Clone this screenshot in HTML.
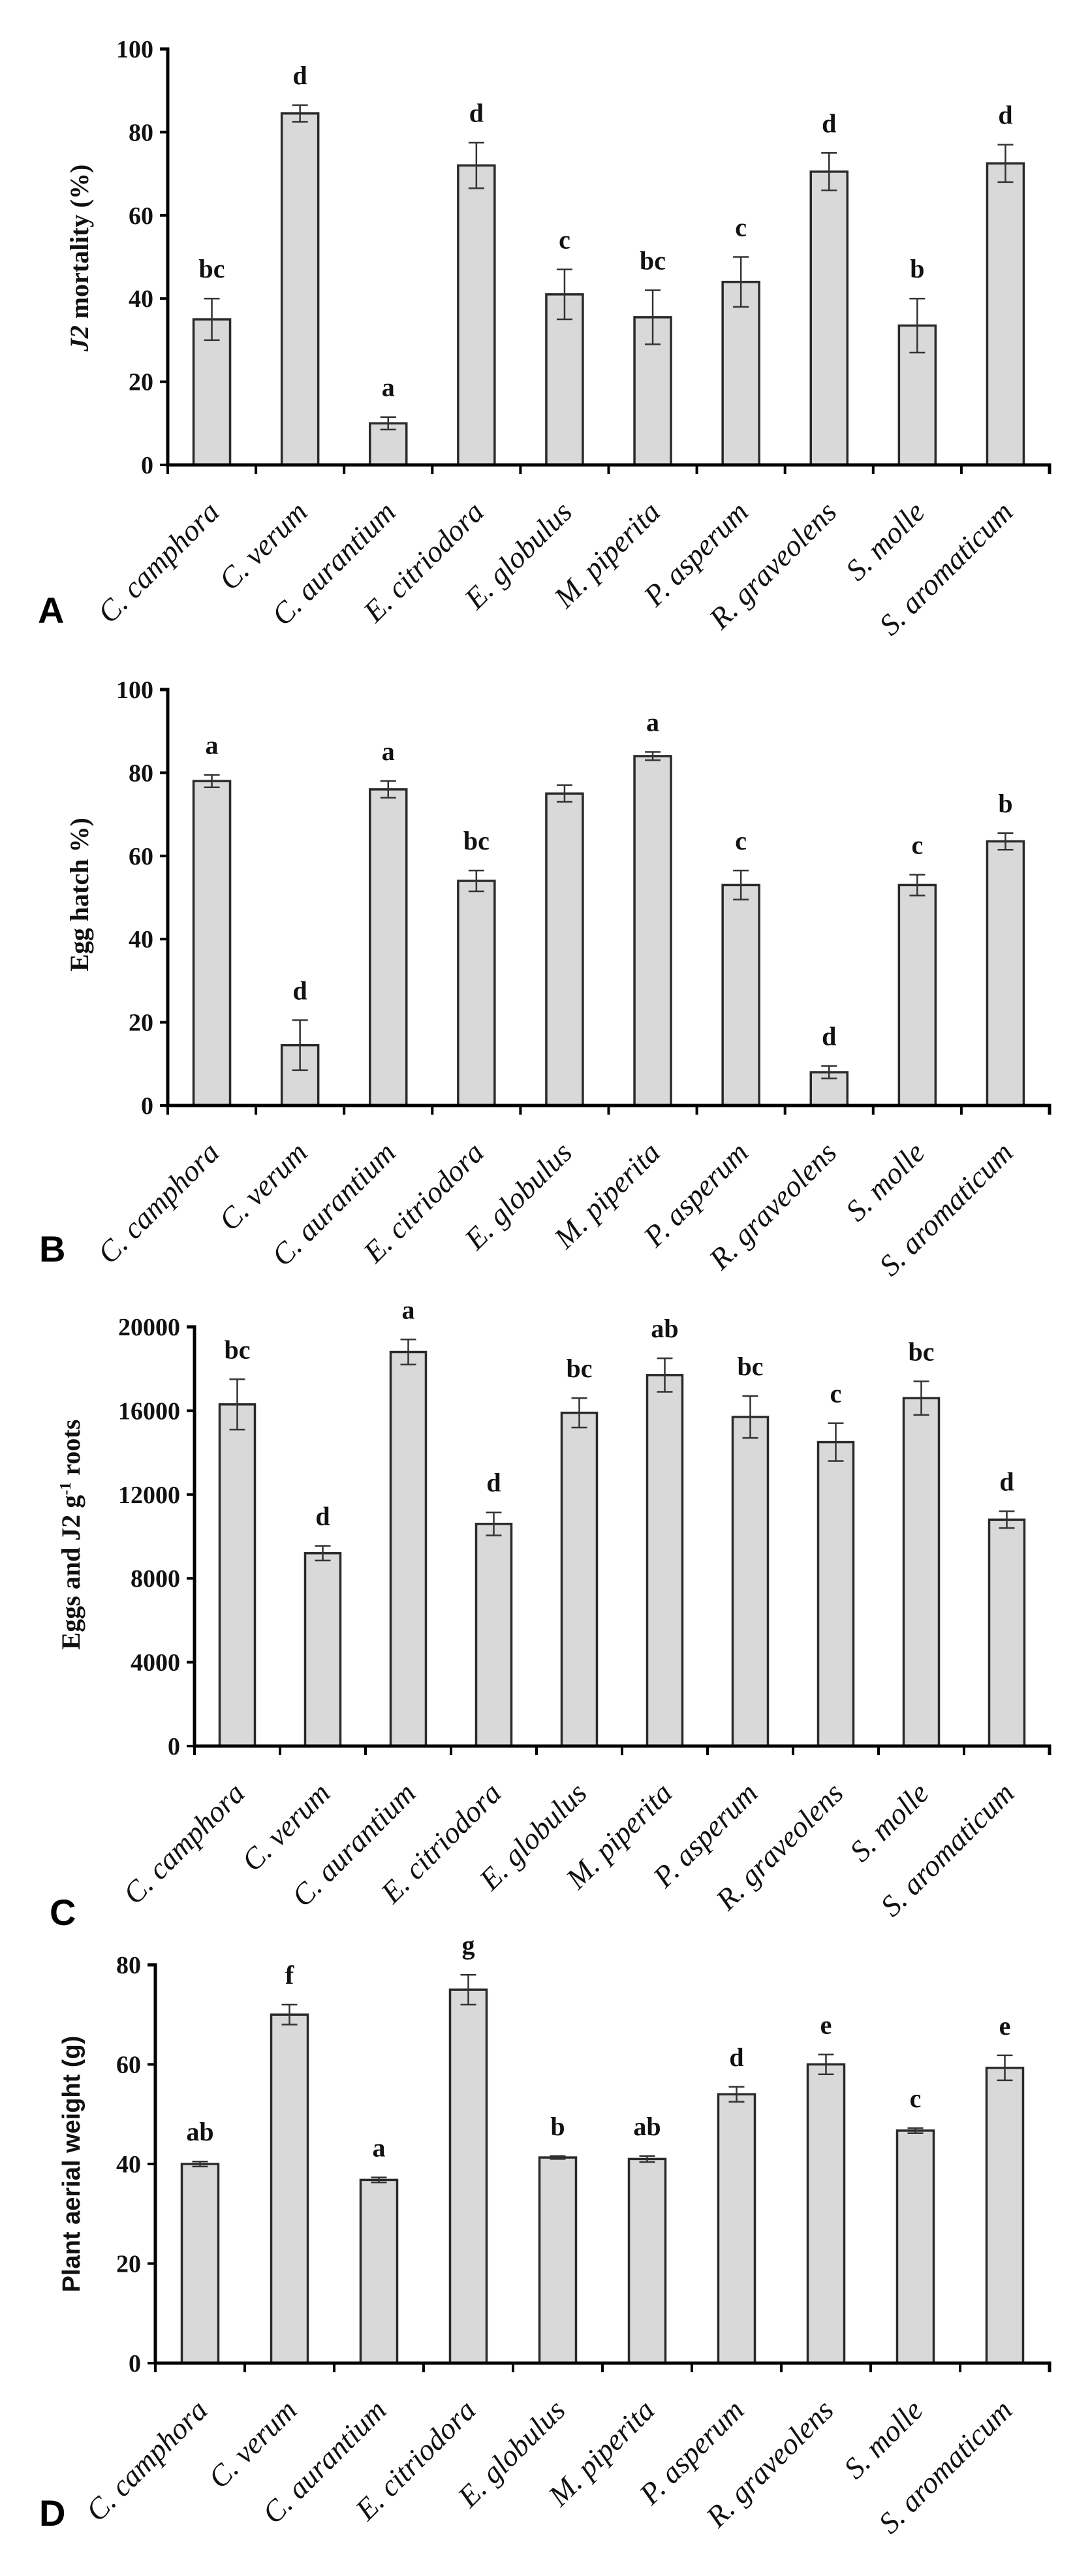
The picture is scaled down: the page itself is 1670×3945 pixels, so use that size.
<!DOCTYPE html>
<html><head><meta charset="utf-8"><style>
html,body{margin:0;padding:0;background:#fff;}
svg{display:block;}
.tick{font-family:"Liberation Serif",serif;font-weight:bold;font-size:38px;fill:#111;}
.lab{font-family:"Liberation Serif",serif;font-style:italic;font-size:46px;fill:#111;}
.let{font-family:"Liberation Serif",serif;font-weight:bold;font-size:40px;fill:#111;}
.ttl{font-family:"Liberation Serif",serif;font-weight:bold;font-size:40px;fill:#111;}
.ttls{font-family:"Liberation Sans",sans-serif;font-weight:bold;font-size:38px;fill:#111;}
.pl{font-family:"Liberation Sans",sans-serif;font-weight:bold;font-size:56px;fill:#000;}
</style></head><body>
<svg id="fig" width="1670" height="3945" viewBox="0 0 1670 3945" xmlns="http://www.w3.org/2000/svg"></svg>
<script>
const categories = ["C. camphora","C. verum","C. aurantium","E. citriodora","E. globulus","M. piperita","P. asperum","R. graveolens","S. molle","S. aromaticum"];

const valuesA = [35,84.5,10,72,41,35.5,44,70.5,33.5,72.5];
const errorsA = [5,2,1.5,5.5,6,6.5,6,4.5,6.5,4.5];
const lettersA = ["bc","d","a","d","c","bc","c","d","b","d"];
const ticksA = [0,20,40,60,80,100];

const valuesB = [78,14.5,76,54,75,84,53,8,53,63.5];
const errorsB = [1.5,6,2,2.5,2,1,3.5,1.5,2.5,2];
const lettersB = ["a","d","a","bc","","a","c","d","c","b"];
const ticksB = [0,20,40,60,80,100];

const valuesC = [16300,9200,18800,10600,15900,17700,15700,14500,16600,10800];
const errorsC = [1200,350,600,550,700,800,1000,900,800,400];
const lettersC = ["bc","d","a","d","bc","ab","bc","c","bc","d"];
const ticksC = [0,4000,8000,12000,16000,20000];

const valuesD = [40,70,36.8,75,41.3,41,54,60,46.7,59.3];
const errorsD = [0.5,2,0.5,3,0.3,0.6,1.5,2,0.5,2.5];
const lettersD = ["ab","f","a","g","b","ab","d","e","c","e"];
const ticksD = [0,20,40,60,80];

const NS="http://www.w3.org/2000/svg";
const svg=document.getElementById('fig');
function mk(tag,attrs,parent){const e=document.createElementNS(NS,tag);for(const k in attrs)e.setAttribute(k,attrs[k]);(parent||svg).appendChild(e);return e;}

function panel(id,cfg,vals,errs,lets,ticks){
  const g=mk('g',{});
  
  
  const x0=cfg.x0,x1=1608,yT=cfg.yTop,yB=cfg.yBot,max=ticks[ticks.length-1];
  const sp=(x1-x0)/categories.length;
  const yS=v=>yB-(v/max)*(yB-yT);
  const xC=i=>x0+sp*(i+0.5);
  vals.forEach((v,i)=>{
    const r=mk('rect',{x:xC(i)-cfg.bw/2,y:yS(v),width:cfg.bw,height:yB-yS(v),fill:'#d9d9d9',stroke:'#2a2a2a','stroke-width':3.5},g);
    
    
    const e=errs[i],c=xC(i);
    const eb=mk('path',{d:`M${c},${yS(v+e)}V${yS(v-e)}M${c-12},${yS(v+e)}H${c+12}M${c-12},${yS(v-e)}H${c+12}`,stroke:'#333','stroke-width':2.5,fill:'none'},g);
    
    
    if(lets[i]){
      const t=mk('text',{x:c,y:yS(v+e)-32,'text-anchor':'middle',class:'let'},g);
      t.textContent=lets[i];
      
      
    }
    const lx=c+14,ly=yB+75;
    const lb=mk('text',{x:lx,y:ly,'text-anchor':'end',class:'lab',transform:`rotate(-45 ${lx} ${ly})`},g);
    lb.textContent=categories[i];
    
    
  });
  const ax=mk('path',{d:`M${x0-12},${yT}H${x0}V${yB}H${x1}V${yB+14}`,stroke:'#000','stroke-width':5,fill:'none'},g);
  
  
  for(let i=0;i<=categories.length;i++){
    const xt=x0+sp*i;
    mk('line',{x1:xt,y1:yB,x2:xt,y2:yB+14,stroke:'#000','stroke-width':4},g);
  }
  ticks.forEach(t=>{
    mk('line',{x1:x0-12,y1:yS(t),x2:x0,y2:yS(t),stroke:'#000','stroke-width':4},g);
    const tl=mk('text',{x:x0-22,y:yS(t)+13,'text-anchor':'end',class:'tick'},g);
    tl.textContent=String(t);
    
    
  });
  const tt=mk('text',{x:cfg.tx,y:cfg.ty,'text-anchor':'middle',class:cfg.tcls,transform:`rotate(-90 ${cfg.tx} ${cfg.ty})`},g);
  tt.innerHTML=cfg.title;
  
  
  const pl=mk('text',{x:cfg.px,y:cfg.py,class:'pl'},g);
  pl.textContent=id;
  
  
}

panel('A',{x0:257,yTop:75,yBot:712,bw:56,tx:135,ty:395,tcls:'ttl',title:'<tspan font-style="italic">J2</tspan> mortality (%)',px:58,py:954},valuesA,errorsA,lettersA,ticksA);
panel('B',{x0:257,yTop:1056,yBot:1693,bw:56,tx:135,ty:1370,tcls:'ttl',title:'Egg hatch %)',px:60,py:1932},valuesB,errorsB,lettersB,ticksB);
panel('C',{x0:298,yTop:2032,yBot:2674,bw:54,tx:122,ty:2350,tcls:'ttl',title:'Eggs and J2 g<tspan dy="-14" font-size="24">-1</tspan><tspan dy="14"> roots</tspan>',px:76,py:2948},valuesC,errorsC,lettersC,ticksC);
panel('D',{x0:238,yTop:3009,yBot:3619,bw:56,tx:122,ty:3314,tcls:'ttls',title:'Plant aerial weight (g)',px:60,py:3868},valuesD,errorsD,lettersD,ticksD);
</script>
</body></html>
